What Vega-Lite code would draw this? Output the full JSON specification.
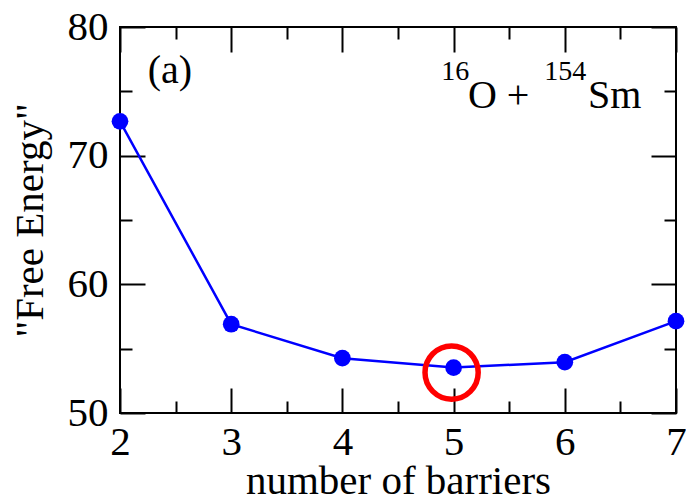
{
  "$schema": "https://vega.github.io/schema/vega-lite/v6.json",
  "width": 556,
  "height": 386,
  "autosize": {"type": "none"},
  "padding": {"left": 120, "top": 27, "right": 10, "bottom": 88},
  "background": "white",
  "config": {
    "font": "Liberation Serif",
    "view": {"stroke": "black", "strokeWidth": 2},
    "axis": {
      "domain": false,
      "grid": false,
      "tickColor": "black",
      "tickWidth": 2,
      "labelColor": "black",
      "titleColor": "black",
      "labelFont": "Liberation Serif",
      "titleFont": "Liberation Serif",
      "labelFontSize": 41,
      "titleFontSize": 41,
      "titleFontWeight": "normal",
      "labelOverlap": false,
      "labelFlush": false,
      "format": "d"
    }
  },
  "data": {
    "values": [
      {"barriers": 2, "energy": 72.67},
      {"barriers": 3, "energy": 56.9},
      {"barriers": 4, "energy": 54.26},
      {"barriers": 5, "energy": 53.53},
      {"barriers": 6, "energy": 53.95},
      {"barriers": 7, "energy": 57.14}
    ]
  },
  "layer": [
    {
      "mark": {"type": "line", "color": "#0000ff", "strokeWidth": 2.5},
      "encoding": {
        "x": {
          "field": "barriers",
          "type": "quantitative",
          "scale": {"domain": [2, 7], "nice": false, "zero": false},
          "axis": {
            "orient": "bottom",
            "title": "number of barriers",
            "values": [2, 3, 4, 5, 6, 7],
            "tickSize": -25,
            "labelPadding": 34,
            "titlePadding": -1
          }
        },
        "y": {
          "field": "energy",
          "type": "quantitative",
          "scale": {"domain": [50, 80], "nice": false, "zero": false},
          "axis": {
            "orient": "left",
            "title": "\"Free Energy\"",
            "values": [50, 60, 70, 80],
            "tickSize": -25,
            "labelPadding": 37,
            "titlePadding": 16
          }
        }
      }
    },
    {
      "mark": {"type": "point", "filled": true, "color": "#0000ff", "size": 280, "opacity": 1, "shape": "circle"},
      "encoding": {
        "x": {
          "field": "barriers",
          "type": "quantitative",
          "axis": {"orient": "top", "title": null, "labels": false, "values": [2, 3, 4, 5, 6, 7], "tickSize": -25}
        },
        "y": {
          "field": "energy",
          "type": "quantitative",
          "axis": {"orient": "right", "title": null, "labels": false, "values": [50, 60, 70, 80], "tickSize": -25}
        }
      }
    },
    {
      "transform": [{"filter": "datum.barriers === 5"}],
      "mark": {"type": "point", "filled": false, "color": "#ff0000", "size": 2830, "strokeWidth": 5.5, "opacity": 1, "shape": "circle", "yOffset": 5, "xOffset": -2},
      "encoding": {
        "x": {
          "field": "barriers",
          "type": "quantitative",
          "axis": {"orient": "bottom", "title": null, "labels": false, "values": [2.5, 3.5, 4.5, 5.5, 6.5], "tickSize": -12}
        },
        "y": {
          "field": "energy",
          "type": "quantitative",
          "axis": {"orient": "left", "title": null, "labels": false, "values": [55, 65, 75], "tickSize": -12}
        }
      }
    },
    {
      "data": {"values": [{"label": "(a)"}]},
      "mark": {"type": "text", "align": "left", "baseline": "alphabetic", "fontSize": 40, "font": "Liberation Serif", "color": "black"},
      "encoding": {
        "x": {
          "datum": 2.25,
          "type": "quantitative",
          "axis": {"orient": "top", "title": null, "labels": false, "values": [2.5, 3.5, 4.5, 5.5, 6.5], "tickSize": -12}
        },
        "y": {
          "datum": 75.68,
          "type": "quantitative",
          "axis": {"orient": "right", "title": null, "labels": false, "values": [55, 65, 75], "tickSize": -12}
        },
        "text": {"field": "label"}
      }
    },
    {
      "data": {"values": [{"label": "16"}]},
      "mark": {"type": "text", "align": "left", "baseline": "alphabetic", "fontSize": 28, "font": "Liberation Serif", "color": "black"},
      "encoding": {
        "x": {"datum": 4.89, "type": "quantitative", "axis": null},
        "y": {"datum": 75.91, "type": "quantitative", "axis": null},
        "text": {"field": "label"}
      }
    },
    {
      "data": {"values": [{"label": "O +"}]},
      "mark": {"type": "text", "align": "left", "baseline": "alphabetic", "fontSize": 40, "font": "Liberation Serif", "color": "black"},
      "encoding": {
        "x": {"datum": 5.129, "type": "quantitative", "axis": null},
        "y": {"datum": 73.7, "type": "quantitative", "axis": null},
        "text": {"field": "label"}
      }
    },
    {
      "data": {"values": [{"label": "154"}]},
      "mark": {"type": "text", "align": "left", "baseline": "alphabetic", "fontSize": 28, "font": "Liberation Serif", "color": "black"},
      "encoding": {
        "x": {"datum": 5.815, "type": "quantitative", "axis": null},
        "y": {"datum": 75.91, "type": "quantitative", "axis": null},
        "text": {"field": "label"}
      }
    },
    {
      "data": {"values": [{"label": "Sm"}]},
      "mark": {"type": "text", "align": "left", "baseline": "alphabetic", "fontSize": 40, "font": "Liberation Serif", "color": "black"},
      "encoding": {
        "x": {"datum": 6.209, "type": "quantitative", "axis": null},
        "y": {"datum": 73.7, "type": "quantitative", "axis": null},
        "text": {"field": "label"}
      }
    }
  ],
  "resolve": {"axis": {"x": "independent", "y": "independent"}}
}
